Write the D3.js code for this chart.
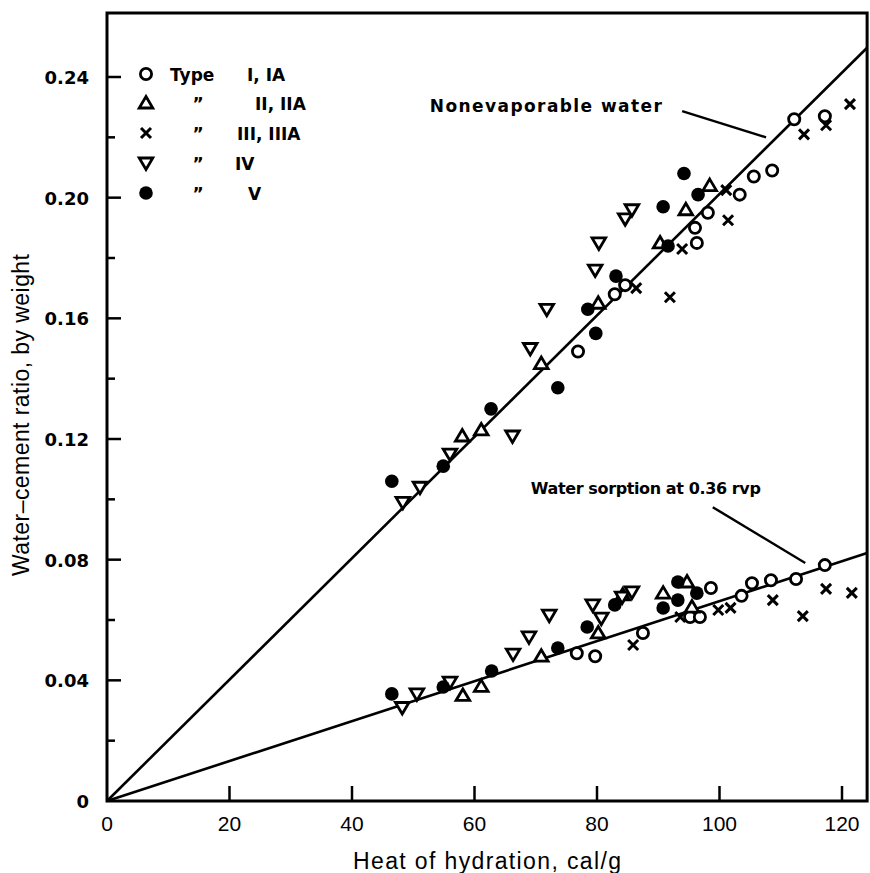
<!DOCTYPE html>
<html>
<head>
<meta charset="utf-8">
<script src="https://cdn.jsdelivr.net/npm/d3@7"></script>
<style>
  body { margin: 0; background: #fff; }
  svg { display: block; }
  .tick-y { font-family: "DejaVu Sans", sans-serif; font-size: 18px; font-weight: bold; }
  .tick-x { font-family: "Liberation Sans", Arial, sans-serif; font-size: 21px; }
  .lbl { font-family: "Liberation Sans", Arial, sans-serif; font-size: 23px; }
  .note { font-family: "DejaVu Sans", sans-serif; font-size: 17px; font-weight: bold; }
</style>
</head>
<body>
<div id="chart"></div>
<script>
// x-axis: heat of hydration (cal/g), y-axis: water-cement ratio
var xTicks = [0, 20, 40, 60, 80, 100, 120];
var yTicks = [0, 0.04, 0.08, 0.12, 0.16, 0.20, 0.24];
var yMinor = [0.02, 0.06, 0.10, 0.14, 0.18, 0.22];

// fitted lines through the origin
var fitX = [0, 124.1];
var nonevapY = [0, 0.2497];
var sorptionY = [0, 0.0822];

// nonevaporable water points
var typeI_upper = [[76.9,0.149],[82.9,0.168],[84.6,0.171],[96.0,0.190],[96.3,0.185],[98.1,0.195],[103.3,0.201],[105.6,0.207],[108.6,0.209],[112.2,0.226],[117.2,0.227]];
var typeII_upper = [[58.0,0.121],[61.1,0.123],[70.9,0.145],[80.2,0.165],[90.3,0.185],[94.5,0.196],[98.4,0.204]];
var typeIII_upper = [[86.4,0.170],[91.9,0.167],[93.9,0.183],[101.1,0.2025],[101.4,0.1925],[113.8,0.221],[117.4,0.224],[121.3,0.231]];
var typeIV_upper = [[48.3,0.099],[51.1,0.104],[56.0,0.115],[66.2,0.121],[69.1,0.150],[71.8,0.163],[79.7,0.176],[80.3,0.185],[84.6,0.193],[85.7,0.196]];
var typeV_upper = [[46.5,0.106],[54.9,0.111],[62.7,0.130],[73.6,0.137],[78.5,0.163],[79.8,0.155],[83.1,0.174],[90.8,0.197],[91.6,0.184],[94.2,0.208],[96.5,0.201]];

// water sorption points
var typeI_lower = [[76.7,0.049],[79.7,0.048],[87.5,0.0557],[95.2,0.061],[96.8,0.061],[98.6,0.0706],[103.6,0.068],[105.3,0.0722],[108.4,0.0732],[112.5,0.0736],[117.2,0.0782]];
var typeII_lower = [[58.1,0.035],[61.1,0.038],[70.9,0.048],[80.2,0.0557],[84.2,0.0683],[90.8,0.0689],[94.7,0.0726],[95.5,0.0643]];
var typeIII_lower = [[85.9,0.0517],[93.6,0.061],[99.8,0.0633],[101.8,0.064],[108.7,0.0666],[113.6,0.0613],[117.4,0.0703],[121.6,0.069]];
var typeIV_lower = [[48.2,0.031],[50.6,0.0355],[56.0,0.0394],[66.3,0.0487],[68.9,0.0544],[72.2,0.0616],[79.3,0.065],[80.7,0.0606],[84.1,0.0676],[85.7,0.0693]];
var typeV_lower = [[46.5,0.0355],[54.9,0.0378],[62.8,0.0431],[73.6,0.0507],[78.4,0.0577],[82.9,0.065],[90.8,0.064],[93.2,0.0726],[93.2,0.0666],[96.3,0.0689]];

var legendShapes = ["circle", "up", "cross", "down", "dot"];
var legendNames = ["I, IA", "II, IIA", "III, IIIA", "IV", "V"];

var width = 870, height = 873;

var x = d3.scaleLinear().domain([0, 120]).range([107, 842]);
var y = d3.scaleLinear().domain([0, 0.24]).range([801, 77]);
var xMax = 124.1, yMax = 0.2612;

var svg = d3.select("#chart").append("svg")
    .attr("width", width)
    .attr("height", height);

// frame
var frame = svg.append("g").attr("stroke", "#000").attr("stroke-width", 3).attr("fill", "none");
frame.append("path")
    .attr("d", "M" + x(0) + "," + y(yMax) + "H" + x(xMax) + "V" + y(0) + "H" + x(0) + "Z");

// x ticks (inside)
frame.selectAll(".xt")
    .data(xTicks.filter(function(d) { return d > 0; }))
    .enter().append("line")
    .attr("x1", function(d) { return x(d); })
    .attr("x2", function(d) { return x(d); })
    .attr("y1", y(0))
    .attr("y2", y(0) - 15)
    .attr("stroke-width", 2.5);

// y ticks, major and minor
frame.selectAll(".yt")
    .data(yTicks.filter(function(d) { return d > 0; }))
    .enter().append("line")
    .attr("x1", x(0)).attr("x2", x(0) + 14)
    .attr("y1", function(d) { return y(d); })
    .attr("y2", function(d) { return y(d); })
    .attr("stroke-width", 2.5);
frame.selectAll(".ym")
    .data(yMinor)
    .enter().append("line")
    .attr("x1", x(0)).attr("x2", x(0) + 8)
    .attr("y1", function(d) { return y(d); })
    .attr("y2", function(d) { return y(d); })
    .attr("stroke-width", 2.5);

svg.selectAll(".tick-x")
    .data(xTicks)
    .enter().append("text")
    .attr("class", "tick-x")
    .attr("x", function(d) { return x(d); })
    .attr("y", y(0) + 30)
    .attr("text-anchor", "middle")
    .text(function(d) { return d; });

svg.selectAll(".tick-y")
    .data(yTicks)
    .enter().append("text")
    .attr("class", "tick-y")
    .attr("x", 89)
    .attr("y", function(d) { return y(d) + 7; })
    .attr("text-anchor", "end")
    .text(function(d) { return d === 0 ? "0" : d3.format(".2f")(d); });

svg.append("text")
    .attr("class", "lbl")
    .attr("x", 487).attr("y", 869)
    .attr("text-anchor", "middle")
    .attr("textLength", 268)
    .text("Heat of hydration, cal/g");

svg.append("text")
    .attr("class", "lbl")
    .attr("transform", "translate(29,415) rotate(-90)")
    .attr("text-anchor", "middle")
    .attr("textLength", 322)
    .text("Water\u2013cement ratio, by weight");

// fitted lines
var line = d3.line()
    .x(function(d) { return x(d[0]); })
    .y(function(d) { return y(d[1]); });

svg.append("path")
    .datum(d3.zip(fitX, nonevapY))
    .attr("d", line)
    .attr("fill", "none").attr("stroke", "#000").attr("stroke-width", 2.6);
svg.append("path")
    .datum(d3.zip(fitX, sorptionY))
    .attr("d", line)
    .attr("fill", "none").attr("stroke", "#000").attr("stroke-width", 2.6);

// markers
function drawMarker(g, shape) {
  if (shape === "circle") {
    g.append("circle").attr("r", 5.6).attr("fill", "#fff").attr("stroke", "#000").attr("stroke-width", 2.8);
  } else if (shape === "dot") {
    g.append("circle").attr("r", 6.8).attr("fill", "#000");
  } else if (shape === "up") {
    g.append("path").attr("d", "M0,-6.5L6.8,5L-6.8,5Z")
      .attr("fill", "#fff").attr("stroke", "#000").attr("stroke-width", 2.8).attr("stroke-linejoin", "miter");
  } else if (shape === "down") {
    g.append("path").attr("d", "M0,6.5L6.8,-5L-6.8,-5Z")
      .attr("fill", "#fff").attr("stroke", "#000").attr("stroke-width", 2.8).attr("stroke-linejoin", "miter");
  } else if (shape === "cross") {
    g.append("path").attr("d", "M-5,-5L5,5M-5,5L5,-5")
      .attr("stroke", "#000").attr("stroke-width", 3);
  }
}

var groups = [
  [typeI_upper, "circle"], [typeI_lower, "circle"],
  [typeII_upper, "up"], [typeII_lower, "up"],
  [typeIII_upper, "cross"], [typeIII_lower, "cross"],
  [typeIV_upper, "down"], [typeIV_lower, "down"],
  [typeV_upper, "dot"], [typeV_lower, "dot"]
];

groups.forEach(function(gr) {
  svg.append("g").selectAll("g")
    .data(gr[0])
    .enter().append("g")
    .attr("transform", function(d) { return "translate(" + x(d[0]) + "," + y(d[1]) + ")"; })
    .each(function() { drawMarker(d3.select(this), gr[1]); });
});

// annotations
var notes = svg.append("g");
notes.append("text").attr("class", "note")
    .attr("x", x(52.7)).attr("y", y(0.2284))
    .attr("textLength", 232)
    .text("Nonevaporable water");
notes.append("line")
    .attr("x1", x(93.9)).attr("y1", y(0.2287))
    .attr("x2", x(107.6)).attr("y2", y(0.220))
    .attr("stroke", "#000").attr("stroke-width", 2.4);

notes.append("text").attr("class", "note")
    .style("font-size", "16px")
    .attr("x", x(69.2)).attr("y", y(0.1017))
    .attr("textLength", 230)
    .text("Water sorption at 0.36 rvp");
notes.append("line")
    .attr("x1", x(98.9)).attr("y1", y(0.0974))
    .attr("x2", x(114.0)).attr("y2", y(0.0789))
    .attr("stroke", "#000").attr("stroke-width", 2.4);

// legend
var legRowY = [74, 103, 133, 163, 193];
var legNameX = [247, 255, 237, 235, 248];
var leg = svg.append("g");
legendShapes.forEach(function(s, i) {
  var row = leg.append("g").attr("transform", "translate(0," + legRowY[i] + ")");
  var m = row.append("g").attr("transform", "translate(146,0)");
  drawMarker(m, s);
  row.append("text").attr("class", "note")
      .attr("x", i === 0 ? 170 : 198).attr("y", 7)
      .attr("text-anchor", i === 0 ? "start" : "middle")
      .text(i === 0 ? "Type" : "\u201D");
  row.append("text").attr("class", "note")
      .attr("x", legNameX[i]).attr("y", 7)
      .text(legendNames[i]);
});
</script>
</body>
</html>
